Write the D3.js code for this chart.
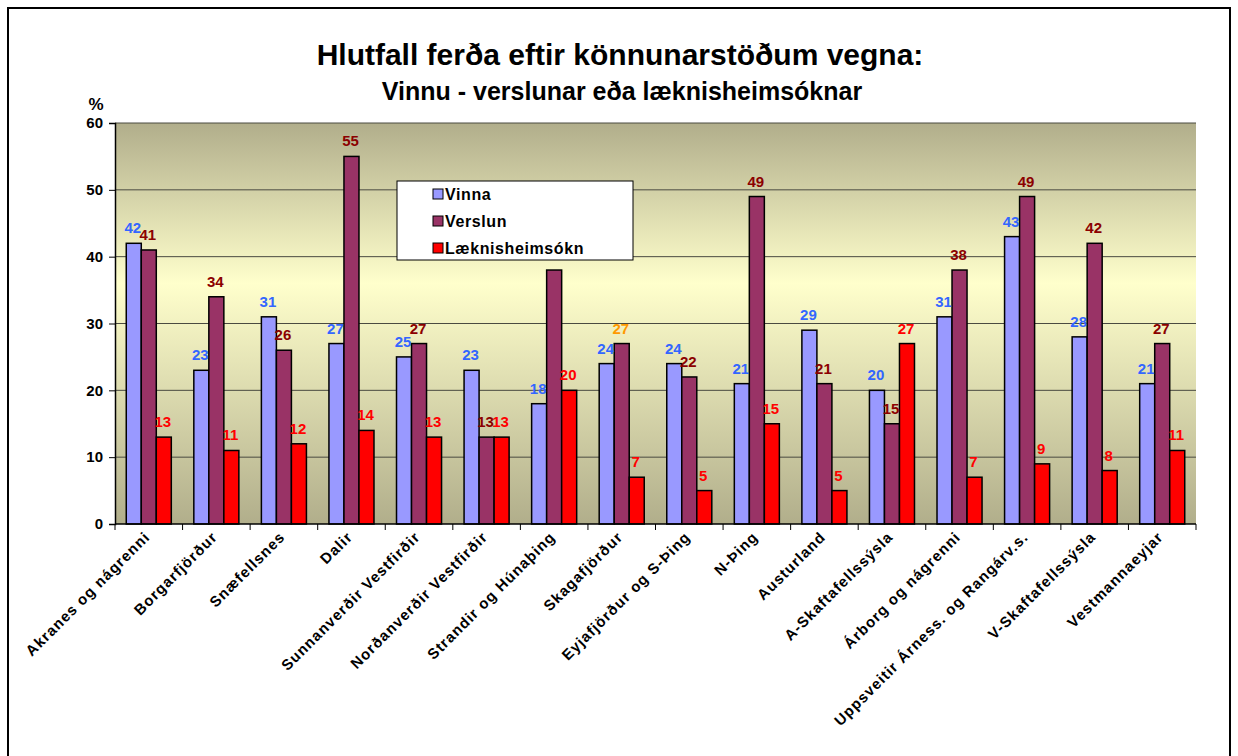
<!DOCTYPE html>
<meta charset="utf-8">
<script src="https://d3js.org/d3.v7.min.js"></script>
<style>
  body { margin: 0; background: #fff; }
  text { font-family: "Liberation Sans", Arial, sans-serif; font-weight: bold; }
</style>
<div id="chart"></div>
<script>
// data
var regions = ["Akranes og nágrenni", "Borgarfjörður", "Snæfellsnes", "Dalir",
  "Sunnanverðir Vestfirðir", "Norðanverðir Vestfirðir", "Strandir og Húnaþing",
  "Skagafjörður", "Eyjafjörður og S-Þing", "N-Þing", "Austurland",
  "A-Skaftafellssýsla", "Árborg og nágrenni", "Uppsveitir Árness. og Rangárv.s.",
  "V-Skaftafellssýsla", "Vestmannaeyjar"];
var seriesNames = ["Vinna", "Verslun", "Læknisheimsókn"];
var vinna   = [42, 23, 31, 27, 25, 23, 18, 24, 24, 21, 29, 20, 31, 43, 28, 21];
var verslun = [41, 34, 26, 55, 27, 13, 38, 27, 22, 49, 21, 15, 38, 49, 42, 27];
var laekn   = [13, 11, 12, 14, 13, 13, 20,  7,  5, 15,  5, 27,  7,  9,  8, 11];
var yTicks  = [0, 10, 20, 30, 40, 50, 60];

var W = 1238, H = 756;
var margin = {top: 123, left: 115, right: 42, bottom: 232};
var width = W - margin.left - margin.right,
    height = H - margin.top - margin.bottom;

var barColors = ["#9999ff", "#993366", "#ff0000"];
var labelColors = ["#3366ff", "#8b0000", "#ff0000"];

var svg = d3.select("#chart").append("svg")
  .attr("width", W).attr("height", H);

// outer chart border
svg.append("rect")
  .attr("x", 8).attr("y", 8).attr("width", 1222).attr("height", 770)
  .attr("fill", "none").attr("stroke", "#000").attr("stroke-width", 2);

var defs = svg.append("defs");
var grad = defs.append("linearGradient").attr("id", "bg")
  .attr("x1", 0).attr("y1", 0).attr("x2", 0).attr("y2", 1);
grad.append("stop").attr("offset", "0%").attr("stop-color", "#b1ae8b");
grad.append("stop").attr("offset", "40%").attr("stop-color", "#ffffcc");
grad.append("stop").attr("offset", "100%").attr("stop-color", "#b1ae8b");

var g = svg.append("g")
  .attr("transform", "translate(" + margin.left + "," + margin.top + ")");

var x = d3.scaleBand().domain(regions).range([0, width]).paddingInner(0).paddingOuter(0);
var bw = x.bandwidth() / 4.5; // excel gap width 150%
var x1 = d3.scaleBand().domain(seriesNames)
  .range([bw * 0.75, bw * 3.75]).padding(0);
var y = d3.scaleLinear().domain([0, 60]).range([height, 0]);

g.append("rect").attr("width", width).attr("height", height).attr("fill", "url(#bg)");

// gridlines
g.selectAll("line.grid")
  .data(yTicks.filter(function(d) { return d > 0; }))
  .enter().append("line")
    .attr("x1", 0).attr("x2", width)
    .attr("y1", function(d) { return y(d); })
    .attr("y2", function(d) { return y(d); })
    .attr("stroke", "#4a4a40").attr("stroke-width", 1);

// bars
var series = [vinna, verslun, laekn];
series.forEach(function(vals, si) {
  g.selectAll("rect.s" + si)
    .data(vals)
    .enter().append("rect")
      .attr("x", function(d, i) { return x(regions[i]) + x1(seriesNames[si]); })
      .attr("y", function(d) { return y(d); })
      .attr("width", x1.bandwidth())
      .attr("height", function(d) { return height - y(d); })
      .attr("fill", barColors[si])
      .attr("stroke", "#000").attr("stroke-width", 1.5);
});

// value labels
series.forEach(function(vals, si) {
  var pts = vals.map(function(v, i) { return {v: v, i: i}; })
    .filter(function(p) { return !(si === 1 && p.i === 6); }); // no label there in original
  g.selectAll("text.l" + si)
    .data(pts)
    .enter().append("text")
      .attr("x", function(p) { return x(regions[p.i]) + x1(seriesNames[si]) + x1.bandwidth() / 2 - 1; })
      .attr("y", function(p) { return y(p.v) - 10; })
      .attr("text-anchor", "middle")
      .style("font-size", "15px")
      .attr("fill", function(p) { return (si === 1 && p.i === 7) ? "#ff9900" : labelColors[si]; })
      .text(function(p) { return p.v; });
});

// y axis
var yAxis = g.append("g")
  .call(d3.axisLeft(y).tickValues(yTicks).tickSize(6).tickPadding(6));
yAxis.select(".domain").attr("stroke", "#000").attr("stroke-width", 1.5);
yAxis.selectAll("line").attr("stroke", "#000");
yAxis.selectAll("text").style("font-size", "15px").attr("fill", "#000");

svg.append("text")
  .attr("x", 96).attr("y", 110)
  .attr("text-anchor", "middle")
  .style("font-size", "17px")
  .text("%");

// x axis (ticks at band edges)
var xAxis = g.append("g").attr("transform", "translate(0," + height + ")");
xAxis.append("line").attr("x1", 0).attr("x2", width)
  .attr("stroke", "#000").attr("stroke-width", 1.5);
xAxis.selectAll("line.tk")
  .data(regions.concat(["_end"]))
  .enter().append("line")
    .attr("x1", function(d, i) { return i * x.bandwidth(); })
    .attr("x2", function(d, i) { return i * x.bandwidth(); })
    .attr("y1", 0).attr("y2", 6)
    .attr("stroke", "#000");
xAxis.selectAll("text")
  .data(regions)
  .enter().append("text")
    .attr("transform", function(d) {
      return "translate(" + (x(d) + x.bandwidth() / 2 + 2) + ",14)rotate(-45)";
    })
    .attr("text-anchor", "end")
    .style("font-size", "15px")
    .style("letter-spacing", "1px")
    .text(function(d) { return d; });

// title
svg.append("text")
  .attr("x", 620).attr("y", 65)
  .attr("text-anchor", "middle")
  .style("font-size", "30px")
  .text("Hlutfall ferða eftir könnunarstöðum vegna:");
svg.append("text")
  .attr("x", 622).attr("y", 100)
  .attr("text-anchor", "middle")
  .style("font-size", "25px")
  .text("Vinnu - verslunar eða læknisheimsóknar");

// legend
var legend = svg.append("g").attr("transform", "translate(397,181)");
legend.append("rect").attr("width", 236).attr("height", 79)
  .attr("fill", "#fff").attr("stroke", "#000").attr("stroke-width", 1);
seriesNames.forEach(function(name, i) {
  var row = legend.append("g").attr("transform", "translate(36," + (14 + i * 27) + ")");
  row.append("rect").attr("x", 0).attr("y", -6).attr("width", 10).attr("height", 10)
    .attr("fill", barColors[i]).attr("stroke", "#000").attr("stroke-width", 1);
  row.append("text").attr("x", 12).attr("y", 5)
    .style("font-size", "16px")
    .style("letter-spacing", "0.6px")
    .text(name);
});
</script>
